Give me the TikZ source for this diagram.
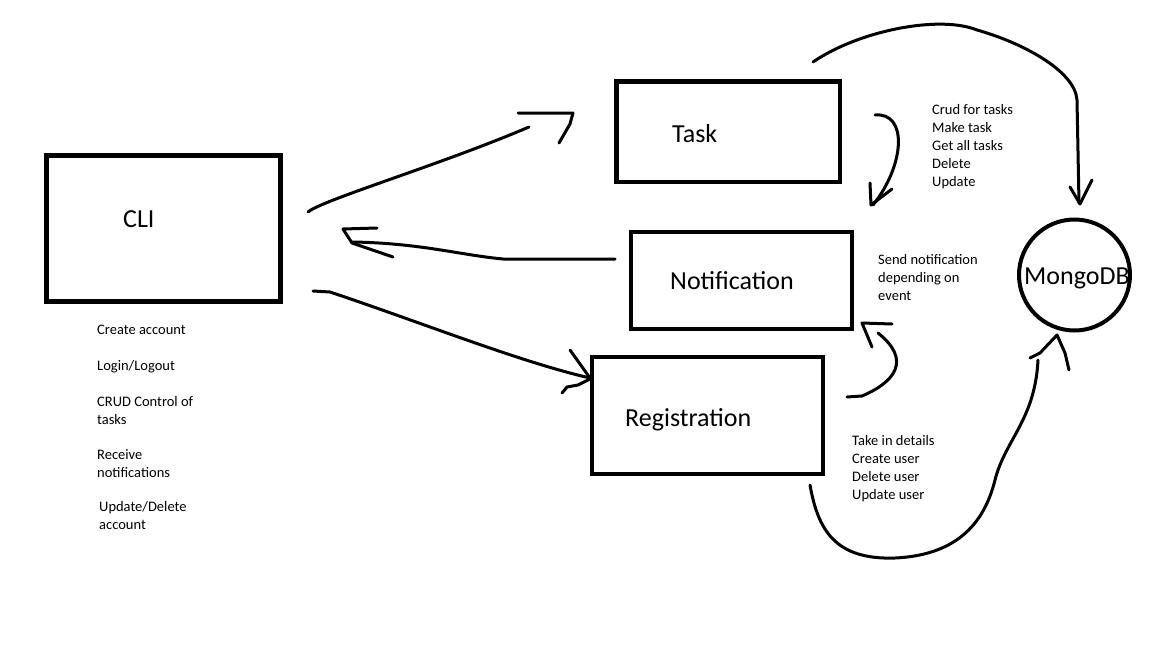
\documentclass[tikz,border=0pt]{standalone}
\usepackage{fontspec}
\setmainfont{Carlito}
\usetikzlibrary{positioning}

\begin{document}
\begin{tikzpicture}[
          x=1pt, y=-1pt,
          box/.style = {draw, line width=4.5pt, inner sep=0pt},
          title/.style = {font=\fontsize{26}{31}\selectfont, inner sep=0pt, anchor=base west},
          note/.style = {font=\fontsize{14.5}{18}\selectfont, align=left, inner sep=0pt, anchor=base west},
          pen/.style = {line width=3pt, line cap=round, line join=round}
         ]

        \fill[white] (0,0) rectangle (1152,648);
        \useasboundingbox (0,0) rectangle (1152,648);

        % Boxes
        \node[box, minimum width=234pt, minimum height=146pt] (cli) at (163.5,228.5) {};
        \node[box, minimum width=223.5pt, minimum height=100.5pt] (task) at (728,131.5) {};
        \node[box, minimum width=221pt, minimum height=97pt] (notification) at (741.5,280.5) {};
        \node[box, minimum width=231pt, minimum height=117pt] (registration) at (707.5,415.5) {};
        \node[draw, circle, line width=4pt, minimum size=111pt, inner sep=0pt] (mongodb) at (1074.5,275) {};

        % Titles
        \node[title] (clititle) at (123,227) {CLI};
        \node[title] (tasktitle) at (672,142) {Task};
        \node[title] (notificationtitle) at (670,289) {Notification};
        \node[title] (registrationtitle) at (625,426) {Registration};
        \node[title] (mongodbtitle) at (1024,284) {MongoDB};

        % Notes for CLI (placed by the baseline of their last line)
        \node[note] (create) at (97,334) {Create account};
        \node[note] (login) at (97,370) {Login/Logout};
        \node[note] (crud) at (97,424) {CRUD Control of\\tasks};
        \node[note] (receive) at (97,477) {Receive\\notifications};
        \node[note] (account) at (99,529) {Update/Delete\\account};

        % Notes for services
        \node[note] (tasknote) at (932,186) {Crud for tasks\\Make task\\Get all tasks\\Delete\\Update};
        \node[note] (notificationnote) at (878,300) {Send notification\\depending on\\event};
        \node[note] (registrationnote) at (852,499) {Take in details\\Create user\\Delete user\\Update user};

        % Ends of the hand drawn arrows
        \coordinate (cli-task-a) at (308,212);
        \coordinate (cli-task-b) at (529,127);
        \coordinate (notif-cli-a) at (615,259);
        \coordinate (notif-cli-b) at (352,242);
        \coordinate (cli-reg-a) at (313,291);
        \coordinate (cli-reg-b) at (590,378);
        \coordinate (task-notif-a) at (875,115);
        \coordinate (task-notif-b) at (873,205);
        \coordinate (reg-notif-a) at (847,397);
        \coordinate (reg-notif-b) at (878,333);
        \coordinate (task-db-a) at (813,62);
        \coordinate (task-db-b) at (1079,203);
        \coordinate (reg-db-a) at (810,485);
        \coordinate (reg-db-b) at (1038,360);

        % Arrows
        \draw[pen] (cli-task-a) .. controls (322,200) and (440,165) .. (cli-task-b);
        \draw[pen] (518,113) -- (573,113) -- (570,124) -- (559,143);

        \draw[pen] (notif-cli-a) -- (503,259) .. controls (460,255) and (420,243) .. (notif-cli-b);
        \draw[pen] (377,228) -- (343,229) -- (352,243) -- (393,257);

        \draw[pen] (cli-reg-a) -- (330,292) .. controls (420,322) and (520,362) .. (cli-reg-b);
        \draw[pen] (570,350) -- (cli-reg-b);
        \draw[pen] (562,393) -- (567,387) -- (578,385) -- (590,379);

        \draw[pen] (task-notif-a) .. controls (908,112) and (905,165) .. (task-notif-b);
        \draw[pen] (870,183) -- (871,205) -- (892,189);

        \draw[pen] (reg-notif-a) -- (862,396) .. controls (895,382) and (912,360) .. (reg-notif-b);
        \draw[pen] (872,347) -- (862,323) -- (892,324);

        \draw[pen] (task-db-a) .. controls (860,30) and (940,15) .. (977,30)
              .. controls (1020,42) and (1075,70) .. (1077,100) -- (task-db-b);
        \draw[pen] (1070,187) -- (1080,204) -- (1092,180);

        \draw[pen] (reg-db-a) .. controls (818,530) and (835,560) .. (895,558)
              .. controls (960,555) and (985,520) .. (995,480)
              .. controls (1005,440) and (1035,420) .. (reg-db-b);
        \draw[pen] (1030,358) -- (1040,353) -- (1057,335) -- (1065,353) -- (1069,370);

\end{tikzpicture}
\end{document}
